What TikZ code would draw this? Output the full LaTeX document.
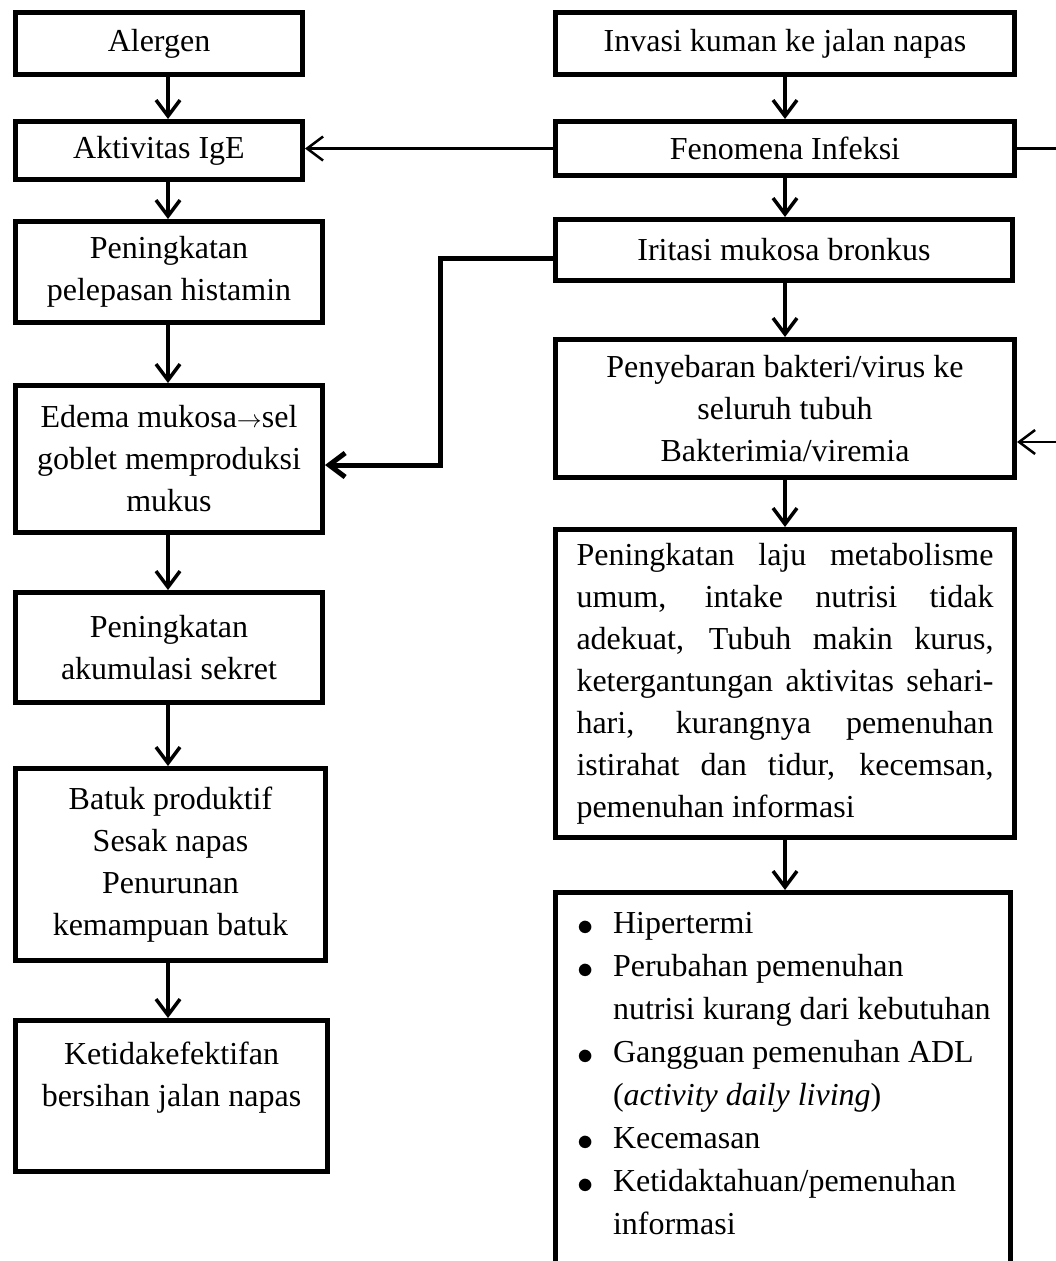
\documentclass[tikz,border=0pt]{standalone}
\usepackage{fontspec}
\setmainfont{Liberation Serif}
\usetikzlibrary{arrows.meta}

\newcommand{\butir}[1]{\mbox{\makebox[36pt][l]{\raisebox{-2pt}{\scalebox{1.3}{$\bullet$}}}#1}}
\newcommand{\lanjut}[1]{\mbox{\hspace*{36pt}#1}}

\begin{document}
\begin{tikzpicture}[x=1pt, y=-1pt,
    flowbox/.style={draw, rectangle, line width=5pt, inner sep=4pt, align=center,
        font=\fontsize{32}{42}\selectfont},
    flow/.style={line width=3.5pt, -{Straight Barb[length=16pt,width=24pt]}},
    feed/.style={line width=2.5pt, -{Straight Barb[length=16pt,width=24pt]}}]
\useasboundingbox (0,0) rectangle (1056,1261);
\clip (0,0) rectangle (1056,1261);

% Column guides for the down arrows
\coordinate (colL) at (168,0);
\coordinate (colR) at (785,0);

% Left column: allergic pathway
\node[flowbox, minimum width=287pt, minimum height=62pt] (alergen) at (159,43.5) {Alergen};
\node[flowbox, minimum width=287pt, minimum height=58pt] (ige) at (159,150.5) {Aktivitas IgE};
\node[flowbox, minimum width=307pt, minimum height=101pt] (histamin) at (169,272) {Peningkatan\\pelepasan histamin};
\node[flowbox, minimum width=307pt, minimum height=147pt] (edema) at (169,459) {Edema mukosa$\rightarrow$sel\\goblet memproduksi\\mukus};
\node[flowbox, minimum width=307pt, minimum height=110pt] (sekret) at (169,647.5) {Peningkatan\\akumulasi sekret};
\node[flowbox, minimum width=310pt, minimum height=192pt] (batuk) at (170.5,864.5) {Batuk produktif\\Sesak napas\\Penurunan\\kemampuan batuk};
\node[flowbox, minimum width=312pt, minimum height=151pt] (ketidak) at (171.5,1096) {Ketidakefektifan\\bersihan jalan napas\\[-12pt]\strut};

% Right column: infection pathway
\node[flowbox, minimum width=459pt, minimum height=62pt] (invasi) at (785,43.5) {Invasi kuman ke jalan napas};
\node[flowbox, minimum width=459pt, minimum height=54pt] (fenomena) at (785,148.5) {Fenomena Infeksi};
\node[flowbox, minimum width=457pt, minimum height=61pt] (iritasi) at (784,250) {Iritasi mukosa bronkus};
\node[flowbox, minimum width=459pt, minimum height=138pt] (sebar) at (785,408.5) {Penyebaran bakteri/virus ke\\seluruh tubuh\\Bakterimia/viremia};
\node[flowbox, align=justify, text width=417pt, inner xsep=21pt, minimum height=308pt] (laju) at (785,683.5)
    {Peningkatan laju metabolisme\linebreak umum, intake nutrisi tidak\linebreak adekuat, Tubuh makin kurus,\linebreak
     ketergantungan aktivitas sehari-\linebreak hari, kurangnya pemenuhan\linebreak istirahat dan tidur, kecemsan,\linebreak
     pemenuhan informasi};
\node[flowbox, anchor=north, align=left, inner xsep=21.5pt, inner ysep=20pt, font=\fontsize{32}{43}\selectfont] (gejala) at (783,890)
    {\parbox[c][400pt][t]{412pt}{%
     \butir{Hipertermi}\\
     \butir{Perubahan pemenuhan}\\
     \lanjut{nutrisi kurang dari kebutuhan}\\
     \butir{Gangguan pemenuhan ADL}\\
     \lanjut{(\textit{activity daily living})}\\
     \butir{Kecemasan}\\
     \butir{Ketidaktahuan/pemenuhan}\\
     \lanjut{informasi}}};

% Down arrows
\foreach \src/\dst in {alergen/ige, ige/histamin, histamin/edema, edema/sekret, sekret/batuk, batuk/ketidak}
    \draw[flow] (\src.south -| colL) -- (\dst.north -| colL);
\foreach \src/\dst in {invasi/fenomena, fenomena/iritasi, iritasi/sebar, sebar/laju, laju/gejala}
    \draw[flow] (\src.south -| colR) -- (\dst.north -| colR);

% Cross links
\draw[feed] (fenomena.west) -- (fenomena.west -| ige.east);
\draw[flow, line width=5pt] ([yshift=-8pt]iritasi.west) -- ++(-113,0) |- ([yshift=-6pt]edema.east);
\draw[feed] (fenomena.east) -- ++(60,0) |- ([yshift=-33.5pt]sebar.east);
\end{tikzpicture}
\end{document}
